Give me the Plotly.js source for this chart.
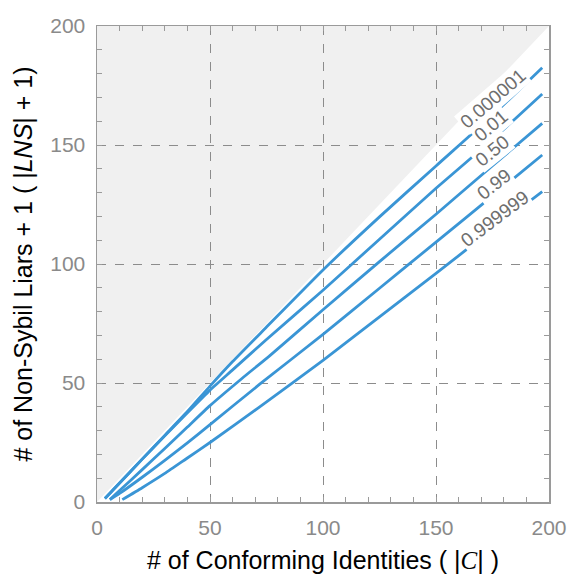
<!DOCTYPE html>
<html>
<head>
<meta charset="utf-8">
<script src="https://cdn.plot.ly/plotly-3.0.1.min.js"></script>
<style>html,body{margin:0;padding:0;background:#fff;}</style>
</head>
<body>
<div id="chart" style="width:568px;height:578px;"></div>
<script>
// Infeasible region (|LNS|+1 > |C|), shaded grey
var regionX = [0, 200, 0];
var regionY = [0, 200, 200];

// Contour levels and their curves
var levels = ["0.000001", "0.01", "0.50", "0.99", "0.999999"];

var xA = [3.5, 10, 20, 30, 40, 50, 60, 75, 100, 125, 150, 175, 197];
var yA = [1.5, 8, 18, 28, 38, 48.7, 59, 73.5, 97.5, 119.8, 141.2, 162.5, 182.5];

var xB = [3.5, 10, 20, 30, 40, 50, 60, 75, 100, 125, 150, 175, 197];
var yB = [1.5, 8, 18, 27.8, 37.5, 47, 55.5, 68.3, 89, 110.4, 131.8, 152.3, 171.4];

var xC = [5.7, 10, 20, 30, 40, 50, 64, 76.5, 100, 125, 150, 175, 197];
var yC = [1, 4.8, 13.6, 22.5, 31.5, 40.5, 51.8, 61.5, 80.8, 101, 120.9, 141.3, 159.1];

var xD = [5.7, 10, 20, 30, 40, 50, 72, 100, 125, 150, 175, 197];
var yD = [1, 3.6, 10.4, 17.5, 24.8, 32.5, 49.5, 70.4, 89.8, 109.2, 128.6, 145.8];

var xE = [11.2, 20, 30, 40, 50, 72, 100, 125, 150, 175, 197];
var yE = [1, 6, 12, 18.5, 25, 40, 59.5, 77.8, 96.1, 114.5, 130.4];

// Label anchor points (data coords) and angles
var labelX = [175.2, 174.3, 175.2, 175.7, 176.1];
var labelY = [169.7, 158.4, 147.5, 133.2, 119.2];
var labelAngle = [-41, -40, -39, -38, -37];

var curvesX = [xA, xB, xC, xD, xE];
var curvesY = [yA, yB, yC, yD, yE];

var lineColor = "#3a95d5";
var traces = [];
for (var i = 0; i < curvesX.length; i++) {
  traces.push({
    type: "scatter", mode: "lines",
    x: curvesX[i], y: curvesY[i],
    line: {color: lineColor, width: 2.8, shape: "spline", smoothing: 0.5},
    hoverinfo: "skip", name: levels[i]
  });
}

var regionPath = "M" + regionX.map(function (v, k) { return v + "," + regionY[k]; }).join(" L") + " Z";

var annotations = [];
for (var j = 0; j < levels.length; j++) {
  annotations.push({
    x: labelX[j], y: labelY[j], xref: "x", yref: "y",
    text: levels[j], showarrow: false, textangle: labelAngle[j],
    font: {family: "Liberation Sans, Arial, sans-serif", size: 19, color: "#6e6e6e"},
    bgcolor: "rgba(255,255,255,1)", borderpad: 1
  });
}

var tickFont = {family: "Liberation Sans, Arial, sans-serif", size: 21, color: "#8a8a8a"};
var frameColor = "#9a9a9a";
function axis(titleText, standoff) {
  return {
    range: [0, 200], dtick: 50, tick0: 0,
    ticks: "inside", ticklen: 5, tickwidth: 1, tickcolor: frameColor,
    showline: true, linecolor: frameColor, linewidth: 1.5, mirror: "allticks",
    showgrid: true, gridcolor: "#8c8c8c", gridwidth: 1, griddash: "dash",
    zeroline: false, tickfont: tickFont, ticklabelstandoff: 6,
    minor: {dtick: 10, ticks: "inside", ticklen: 5, tickwidth: 1, tickcolor: frameColor, showgrid: false},
    title: {text: titleText, standoff: standoff,
            font: {family: "Liberation Sans, Arial, sans-serif", size: 25, color: "#000"}},
    fixedrange: true
  };
}

var xTitle = "# of Conforming Identities ( |<span style=\"font-family:'Liberation Serif',serif\"><i>C</i></span>| )";
var yTitle = "# of Non-Sybil Liars + 1 ( |<i>LNS</i>| + 1)";

var layout = {
  width: 568, height: 578,
  margin: {l: 97, r: 19, t: 26, b: 76},
  paper_bgcolor: "#ffffff", plot_bgcolor: "#ffffff",
  showlegend: false,
  xaxis: axis(xTitle, 14),
  yaxis: axis(yTitle, 10),
  shapes: [{
    type: "path", xref: "x", yref: "y", path: regionPath,
    fillcolor: "#f0f0f0", line: {width: 0}, layer: "below"
  }],
  annotations: annotations
};

Plotly.newPlot("chart", traces, layout, {staticPlot: true, displayModeBar: false});
</script>
</body>
</html>
